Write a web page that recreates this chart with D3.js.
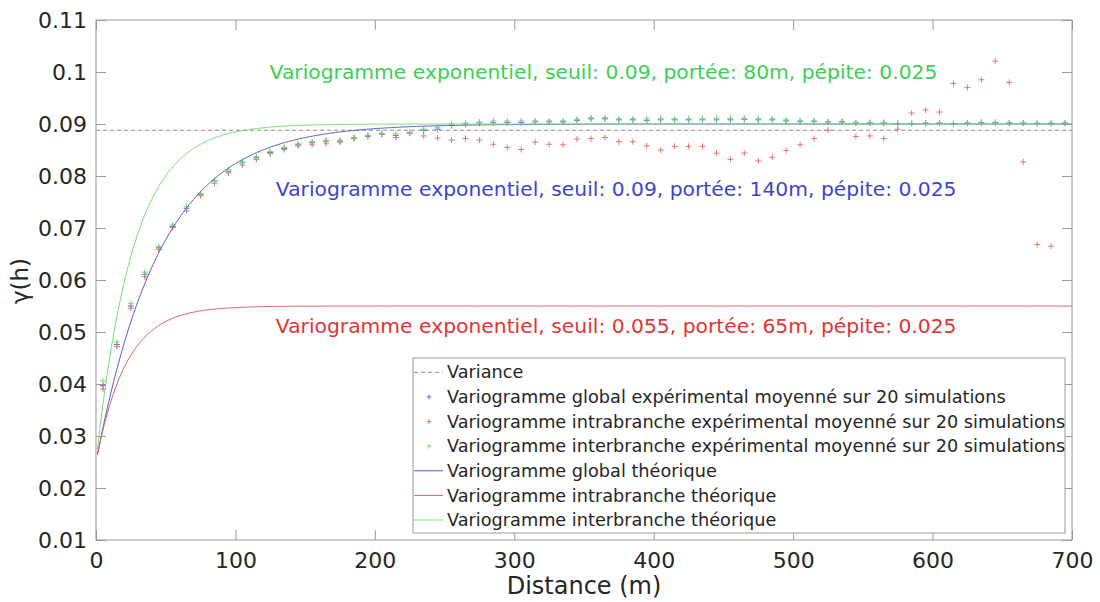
<!DOCTYPE html>
<html><head><meta charset="utf-8">
<script src="https://cdn.jsdelivr.net/npm/d3@7"></script>
<style>
body{margin:0;background:#fff;}
text{font-family:"DejaVu Sans",sans-serif;}
</style></head>
<body><svg id="c" width="1100" height="602"></svg>
<script>
// Distances (m) of the experimental variogram lags
const distances = [5,15,25,35,45,55,65,75,85,95,105,115,125,135,145,155,165,175,185,195,205,215,225,235,245,255,265,275,285,295,305,315,325,335,345,355,365,375,385,395,405,415,425,435,445,455,465,475,485,495,505,515,525,535,545,555,565,575,585,595,605,615,625,635,645,655,665,675,685,695];
// Global experimental variogram (mean over 20 simulations)
const globalExp = [0.0397,0.0476,0.0550,0.0611,0.0662,0.0703,0.0738,0.0764,0.0790,0.0809,0.0825,0.0835,0.0845,0.0853,0.0860,0.0864,0.0867,0.0867,0.0873,0.0877,0.0881,0.0878,0.0883,0.0888,0.0890,0.0897,0.0900,0.0902,0.0903,0.0903,0.0903,0.0904,0.0904,0.0904,0.0907,0.0910,0.0910,0.0908,0.0908,0.0907,0.0908,0.0908,0.0908,0.0908,0.0908,0.0908,0.0909,0.0908,0.0908,0.0906,0.0905,0.0905,0.0904,0.0904,0.0902,0.0902,0.0902,0.0901,0.0901,0.0902,0.0902,0.0901,0.0902,0.0903,0.0903,0.0902,0.0902,0.0901,0.0901,0.0902];
// Intra-branch experimental variogram
const intraExp = [0.0390,0.0472,0.0546,0.0606,0.0659,0.0701,0.0733,0.0762,0.0786,0.0806,0.0821,0.0832,0.0843,0.0851,0.0858,0.0860,0.0862,0.0865,0.0872,0.0876,0.0880,0.0874,0.0882,0.0877,0.0873,0.0869,0.0872,0.0869,0.0861,0.0855,0.0851,0.0865,0.0861,0.0860,0.0871,0.0872,0.0874,0.0866,0.0866,0.0858,0.0850,0.0857,0.0857,0.0857,0.0844,0.0832,0.0844,0.0829,0.0836,0.0849,0.0860,0.0872,0.0888,0.0905,0.0876,0.0877,0.0872,0.0890,0.0921,0.0927,0.0923,0.0978,0.0970,0.0985,0.1021,0.0980,0.0827,0.0668,0.0665,null];
// Inter-branch experimental variogram
const interExp = [0.0406,0.0481,0.0555,0.0615,0.0664,0.0706,0.0741,0.0766,0.0792,0.0812,0.0828,0.0837,0.0847,0.0855,0.0862,0.0866,0.0869,0.0869,0.0874,0.0878,0.0882,0.0881,0.0884,0.0890,0.0893,0.0900,0.0902,0.0904,0.0906,0.0906,0.0906,0.0906,0.0906,0.0906,0.0909,0.0912,0.0912,0.0910,0.0910,0.0910,0.0911,0.0910,0.0910,0.0910,0.0911,0.0911,0.0911,0.0910,0.0910,0.0908,0.0906,0.0906,0.0904,0.0904,0.0903,0.0903,0.0903,0.0901,0.0901,0.0901,0.0901,0.0900,0.0901,0.0902,0.0902,0.0902,0.0902,0.0902,0.0902,0.0902];
// Theoretical exponential models: [global, intra, inter]
const modelNames = ["global","intra","inter"];
const modelSill = [0.09, 0.055, 0.09];
const modelRange = [140, 65, 80];
const modelNugget = [0.025, 0.025, 0.025];
const variance = 0.0888;
const xTicks = [0,100,200,300,400,500,600,700];
const yTicks = [0.01,0.02,0.03,0.04,0.05,0.06,0.07,0.08,0.09,0.1,0.11];
const legendLabels = ["Variance",
 "Variogramme global expérimental moyenné sur 20 simulations",
 "Variogramme intrabranche expérimental moyenné sur 20 simulations",
 "Variogramme interbranche expérimental moyenné sur 20 simulations",
 "Variogramme global théorique",
 "Variogramme intrabranche théorique",
 "Variogramme interbranche théorique"];
const annotations = [
 {text:"Variogramme exponentiel, seuil: 0.09, portée: 80m, pépite: 0.025", x:124.5, y:0.1, c:"#3dcf55"},
 {text:"Variogramme exponentiel, seuil: 0.09, portée: 140m, pépite: 0.025", x:129, y:0.0775, c:"#3b46cc"},
 {text:"Variogramme exponentiel, seuil: 0.055, portée: 65m, pépite: 0.025", x:129, y:0.0512, c:"#e23434"}];

const ptColors = {global:"#5a5ad8", intra:"#e06a6a", inter:"#66dd66"};
const lnColors = {global:"#5a5acc", intra:"#dd6060", inter:"#77dd77"};

const svg = d3.select("#c");
const L=96, R=1072, T=20, B=540;
const x = d3.scaleLinear().domain([0,700]).range([L,R]);
const y = d3.scaleLinear().domain([0.01,0.11]).range([B,T]);

svg.append("defs").append("clipPath").attr("id","clip")
 .append("rect").attr("x",L).attr("y",T).attr("width",R-L).attr("height",B-T);
const plot = svg.append("g").attr("clip-path","url(#clip)");

// variance
plot.append("line").attr("x1",x(0)).attr("x2",x(700)).attr("y1",y(variance)).attr("y2",y(variance))
 .attr("stroke","#8a8a8a").attr("stroke-width",1).attr("stroke-dasharray","4,3");

function plus(g, data, color){
  const s=3;
  g.selectAll(null).data(data.filter(d=>d[1]!=null)).enter().append("path")
   .attr("d",d=>{const px=x(d[0]), py=y(d[1]); return `M${px-s},${py}H${px+s}M${px},${py-s}V${py+s}`;})
   .attr("stroke",color).attr("stroke-width",0.9).attr("fill","none");
}
plus(plot, distances.map((d,i)=>[d,globalExp[i]]), ptColors.global);
plus(plot, distances.map((d,i)=>[d,intraExp[i]]), ptColors.intra);
plus(plot, distances.map((d,i)=>[d,interExp[i]]), ptColors.inter);

// theoretical curves
const hs = d3.range(1,701,1);
modelNames.forEach((n,k)=>{
  const f = h => modelNugget[k] + (modelSill[k]-modelNugget[k])*(1-Math.exp(-3*h/modelRange[k]));
  plot.append("path").datum(hs).attr("fill","none").attr("stroke",lnColors[n]).attr("stroke-width",1)
   .attr("d", d3.line().x(h=>x(h)).y(h=>y(f(h))));
});

// annotations
annotations.forEach(a=>{
  svg.append("text").attr("x",x(a.x)).attr("y",y(a.y)).attr("dy","0.35em")
   .attr("font-size",20.3).attr("fill",a.c).text(a.text);
});

// axes box
const axc="#9a9a9a";
svg.append("rect").attr("x",L).attr("y",T).attr("width",R-L).attr("height",B-T)
 .attr("fill","none").attr("stroke",axc).attr("stroke-width",1);
const tl=10;
const axB = d3.axisBottom(x).tickValues(xTicks).tickSize(-tl).tickFormat(d3.format("d"));
const gB = svg.append("g").attr("transform",`translate(0,${B})`).call(axB);
const gT = svg.append("g").attr("transform",`translate(0,${T})`).call(d3.axisTop(x).tickValues(xTicks).tickSize(-tl).tickFormat(""));
const axLft = d3.axisLeft(y).tickValues(yTicks).tickSize(-tl).tickFormat(d=>String(+d.toFixed(2)));
const gL = svg.append("g").attr("transform",`translate(${L},0)`).call(axLft);
const gR = svg.append("g").attr("transform",`translate(${R},0)`).call(d3.axisRight(y).tickValues(yTicks).tickSize(-tl).tickFormat(""));
[gB,gT,gL,gR].forEach(g=>{g.select(".domain").remove(); g.selectAll(".tick line").attr("stroke",axc);});
gB.selectAll(".tick text").attr("font-size",22).attr("fill","#262626").attr("font-family","DejaVu Sans").attr("y",12).attr("dy","0.71em");
gL.selectAll(".tick text").attr("font-size",22).attr("fill","#262626").attr("font-family","DejaVu Sans").attr("x",-9);

svg.append("text").attr("x",(L+R)/2).attr("y",594).attr("text-anchor","middle")
 .attr("font-size",24).attr("fill","#262626").text("Distance (m)");
svg.append("text").attr("transform","translate(28,281) rotate(-90)").attr("text-anchor","middle")
 .attr("font-size",23).attr("fill","#262626").text("γ(h)");

// legend
const lg = svg.append("g");
lg.append("rect").attr("x",413).attr("y",358).attr("width",652).attr("height",175)
 .attr("fill","#fff").attr("stroke","#9a9a9a").attr("stroke-width",1);
const ly = d3.scalePoint().domain(d3.range(7)).range([372.3,520]);
legendLabels.forEach((t,i)=>{
  const yy = ly(i);
  if(i===0) lg.append("line").attr("x1",414).attr("x2",443).attr("y1",yy).attr("y2",yy).attr("stroke","#8a8a8a").attr("stroke-dasharray","4,3");
  else if(i<=3){ const c=[ptColors.global,ptColors.intra,ptColors.inter][i-1];
    lg.append("path").attr("d",`M${426.5},${yy}H${431.5}M${429},${yy-2.5}V${yy+2.5}`).attr("stroke",c).attr("stroke-width",0.9);}
  else { const c=[lnColors.global,lnColors.intra,lnColors.inter][i-4];
    lg.append("line").attr("x1",414).attr("x2",443).attr("y1",yy).attr("y2",yy).attr("stroke",c).attr("stroke-width",1);}
  lg.append("text").attr("x",447).attr("y",yy).attr("dy","0.35em").attr("font-size",17.7).attr("fill","#262626").text(t);
});
</script></body></html>
